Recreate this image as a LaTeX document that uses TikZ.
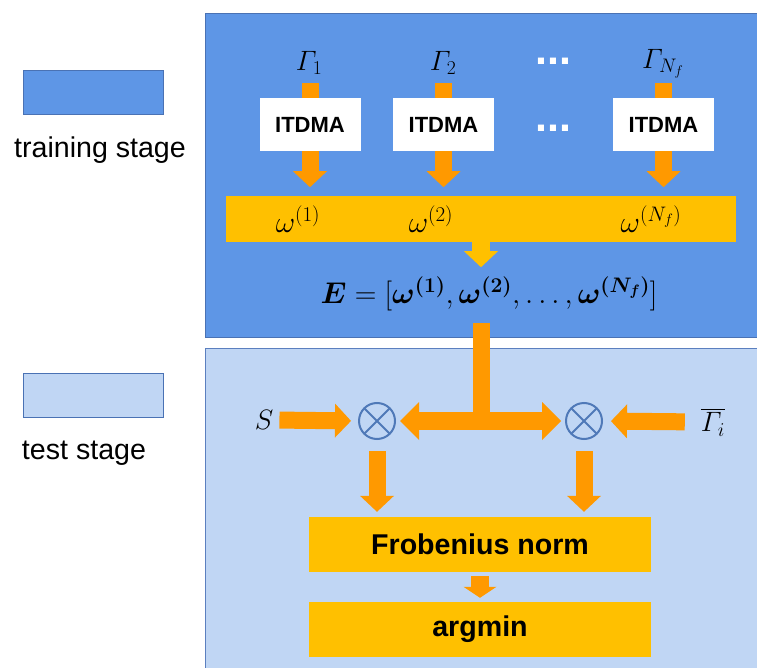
\RequirePackage{fix-cm}
\documentclass[tikz,border=0pt]{standalone}
\usepackage{amsmath}
\usepackage{fontspec}
\setmainfont{Liberation Sans}
\usetikzlibrary{positioning,arrows.meta}

\definecolor{trainblue}{HTML}{5E96E6}
\definecolor{trainedge}{HTML}{4A72B4}
\definecolor{testblue}{HTML}{C0D6F4}
\definecolor{testedge}{HTML}{5B7FBF}
\definecolor{arroworange}{HTML}{FF9900}
\definecolor{baryellow}{HTML}{FFC000}
\definecolor{otimesblue}{HTML}{4F79B8}

\newcommand{\mathfont}{\fontsize{28}{32}\selectfont}

\begin{document}
\begin{tikzpicture}[x=1pt, y=-1pt, every node/.style={inner sep=0pt, font=\mathfont},
  stage/.style={rectangle, draw=trainedge, line width=1.2pt, anchor=north west},
  legend/.style={rectangle, draw=trainedge, line width=1pt, minimum width=140pt, minimum height=44pt},
  legendtext/.style={font=\fontsize{28.6}{32}\selectfont},
  omega/.style={font=\fontsize{30}{34}\selectfont},
  itdma/.style={rectangle, fill=white, minimum width=101pt, minimum height=53pt, font=\fontsize{22}{26}\selectfont\bfseries},
  ybox/.style={rectangle, fill=baryellow, minimum width=342pt, minimum height=55pt, font=\fontsize{28.6}{32}\selectfont\bfseries},
  mult/.style={circle, draw=otimesblue, line width=2pt, minimum size=36pt,
    path picture={\draw[otimesblue, line width=2pt]
      (path picture bounding box.south west) -- (path picture bounding box.north east)
      (path picture bounding box.north west) -- (path picture bounding box.south east);}},
  stem/.style={draw=arroworange, line width=17pt},
  fatarrow/.style={stem, -{Triangle[width=34pt, length=16pt, line width=0pt]}},
  fatboth/.style={draw=arroworange, line width=18pt,
    {Triangle[width=38pt, length=19pt, line width=0pt]}-{Triangle[width=38pt, length=19pt, line width=0pt]}},
  dots/.style={text=white, anchor=base, font=\fontsize{43}{43}\selectfont\bfseries}]

  \useasboundingbox (0,0) rectangle (757,668);

  % stages
  \node[stage, fill=trainblue, minimum width=552pt, minimum height=324pt] (train) at (205,13) {};
  \node[stage, draw=testedge, fill=testblue, minimum width=553pt, minimum height=324pt] (test) at (205,348) {};

  % legend
  \node[legend, fill=trainblue] (ltrain) at (93,93) {};
  \node[legendtext] (ltraintext) at (100,150) {training stage};
  \node[legend, fill=testblue] (ltest) at (93,395.5) {};
  \node[legendtext] (ltesttext) at (84,453) {test stage};

  % training stage
  \node[itdma] (itd1) at (310,124.5) {ITDMA};
  \node[itdma] (itd2) at (443.5,124.5) {ITDMA};
  \node[itdma] (itd3) at (663.5,124.5) {ITDMA};
  \node (g1) at (309,63) {$\varGamma_1$};
  \node (g2) at (443,63) {$\varGamma_2$};
  \node (g3) at (663,64) {$\varGamma_{N_f}$};
  \node[dots] (dtop) at (553.5,65) {...};
  \node[dots] (dmid) at (553.5,132) {...};

  \foreach \i in {1,2,3} {
    \draw[stem] (itd\i.north) -- ++(0,-15);
    \draw[fatarrow] (itd\i.south) -- ++(0,36);
  }

  \node[rectangle, fill=baryellow, minimum width=510pt, minimum height=46pt] (wbar) at (481,219) {};
  \node[omega] (w1) at (298,219) {$\omega^{(1)}$};
  \node[omega] (w2) at (431,219) {$\omega^{(2)}$};
  \node[omega] (w3) at (651,219) {$\omega^{(N_f)}$};
  \draw[fatarrow, draw=baryellow, line width=18pt] (wbar.south) -- ++(0,25);

  \node[omega] (emat) at (489,294)
    {$\boldsymbol{E}=[\boldsymbol{\omega^{(1)}},\boldsymbol{\omega^{(2)}},\dots,\boldsymbol{\omega^{(N_f)}}]$};

  % test stage
  \node[mult] (cl) at (377,421) {};
  \node[mult] (cr) at (584,421) {};
  \node (snode) at (264,420) {$S$};
  \node (gi) at (713,422) {$\overline{\varGamma_i}$};
  \coordinate (etail) at (481,323);
  \coordinate (tjoin) at (481,421);

  \draw[stem] (etail) -- (tjoin);
  \draw[fatboth, shorten <=4pt, shorten >=4pt] (cl.east) -- (cr.west);
  \draw[fatarrow, shorten <=6pt, shorten >=7pt] (snode.east) -- (cl.west);
  \draw[fatarrow, shorten <=16pt, shorten >=8pt] (gi.west) -- (cr.east);

  \node[ybox] (frob) at (480,544.5) {Frobenius norm};
  \node[ybox] (amin) at (480,629.5) {argmin};

  \draw[fatarrow, shorten <=11pt, shorten >=5pt] (cl.south) -- (cl |- frob.north);
  \draw[fatarrow, shorten <=11pt, shorten >=5pt] (cr.south) -- (cr |- frob.north);
  \draw[stem, line width=18pt, -{Triangle[width=33pt, length=11pt, line width=0pt]},
    shorten <=4pt, shorten >=4pt] (frob.south) -- (amin.north);
\end{tikzpicture}
\end{document}
